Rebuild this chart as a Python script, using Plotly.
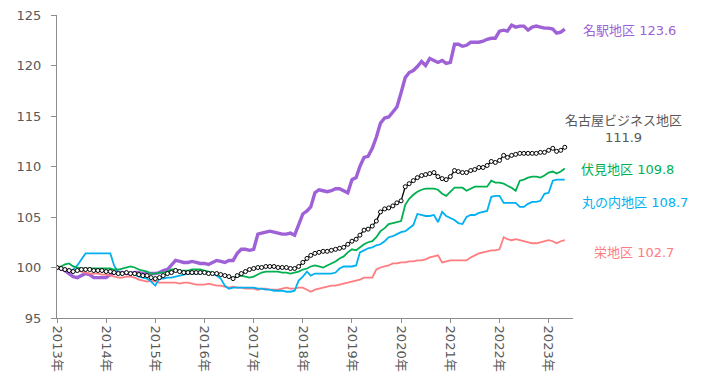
import pandas as pd
import plotly.graph_objects as go

# 月次指数（2013年1月 = 100）、2013年1月〜2023年5月
months = pd.date_range("2013-01-01", periods=125, freq="MS")

meieki = [  # 名駅地区
    100.0, 99.9, 99.7, 99.4, 99.1, 99.0, 99.2, 99.4, 99.3, 99.0, 99.0, 99.0,
    99.0, 99.3, 99.5, 99.5, 99.5, 99.4, 99.4, 99.5, 99.5, 99.4, 99.4, 99.4,
    99.4, 99.5, 99.7, 99.8, 100.2, 100.7, 100.6, 100.5, 100.5, 100.6, 100.5, 100.4,
    100.4, 100.3, 100.5, 100.7, 100.6, 100.5, 100.7, 100.7, 101.4, 101.8, 101.8, 101.7,
    101.8, 103.3, 103.4, 103.5, 103.6, 103.5, 103.4, 103.3, 103.3, 103.4, 103.2, 104.3,
    105.3, 105.6, 106.0, 107.4, 107.7, 107.6, 107.5, 107.6, 107.8, 107.8, 107.6, 107.4,
    108.7, 108.9, 110.0, 110.9, 111.0, 111.8, 112.9, 114.3, 114.8, 114.9, 115.4, 115.9,
    117.3, 118.8, 119.3, 119.5, 119.9, 120.4, 120.0, 120.7, 120.5, 120.3, 120.5, 120.2,
    120.3, 122.1, 122.1, 121.9, 122.0, 122.3, 122.3, 122.3, 122.4, 122.6, 122.7, 122.7,
    123.4, 123.5, 123.4, 124.0, 123.8, 123.9, 123.9, 123.5, 123.8, 123.9, 123.8, 123.7,
    123.7, 123.6, 123.2, 123.3, 123.6,
]

nagoya = [  # 名古屋ビジネス地区
    100.0, 99.9, 99.8, 99.7, 99.6, 99.7, 99.8, 99.8, 99.8, 99.7, 99.7, 99.7,
    99.6, 99.6, 99.5, 99.4, 99.4, 99.5, 99.4, 99.4, 99.3, 99.2, 99.2, 99.0,
    98.9, 99.0, 99.2, 99.4, 99.5, 99.7, 99.6, 99.5, 99.5, 99.5, 99.5, 99.5,
    99.5, 99.4, 99.4, 99.4, 99.3, 99.2, 99.1, 98.9, 99.2, 99.4, 99.6, 99.8,
    99.9, 100.0, 100.0, 100.1, 100.1, 100.1, 100.0, 100.0, 100.0, 99.9, 99.9, 100.1,
    100.5, 100.9, 101.2, 101.4, 101.5, 101.6, 101.6, 101.7, 101.8, 101.9, 102.0, 102.3,
    102.6, 102.8, 103.2, 103.7, 103.8, 104.1, 104.6, 105.5, 105.8, 105.9, 106.1, 106.4,
    106.6, 108.0, 108.3, 108.6, 108.9, 109.1, 109.2, 109.3, 109.4, 109.0, 108.8, 108.7,
    109.0, 109.6, 109.5, 109.4, 109.4, 109.6, 109.7, 109.9, 109.9, 110.1, 110.5, 110.4,
    110.6, 111.1, 110.9, 111.1, 111.2, 111.3, 111.3, 111.3, 111.3, 111.3, 111.4, 111.4,
    111.6, 111.8, 111.5, 111.6, 111.9,
]

fushimi = [  # 伏見地区
    100.0, 100.1, 100.3, 100.4, 100.1, 100.0, 99.9, 99.9, 99.9, 99.9, 99.9, 99.9,
    99.9, 99.9, 99.8, 99.8, 99.9, 100.0, 100.1, 100.0, 99.8, 99.7, 99.6, 99.4,
    99.4, 99.5, 99.5, 99.6, 99.8, 99.8, 99.7, 99.7, 99.7, 99.8, 99.8, 99.8,
    99.7, 99.6, 99.5, 99.4, 99.3, 99.2, 99.1, 99.0, 99.1, 99.2, 99.1, 99.0,
    99.1, 99.3, 99.5, 99.6, 99.6, 99.6, 99.6, 99.5, 99.5, 99.4, 99.5, 99.6,
    99.8, 99.9, 100.1, 100.2, 100.1, 100.0, 100.2, 100.4, 100.6, 100.9, 101.1, 101.5,
    101.8, 101.7, 102.0, 102.3, 102.5, 102.6, 103.0, 103.6, 103.9, 104.3, 104.4, 104.5,
    104.6, 106.2, 106.8, 107.2, 107.5, 107.7, 107.8, 107.8, 107.8, 107.7, 107.3, 107.1,
    107.5, 107.9, 107.9, 107.9, 107.6, 107.8, 108.0, 108.0, 108.0, 108.0, 108.6, 108.4,
    108.4, 108.3, 108.1, 107.9, 107.6, 108.6, 108.7, 108.9, 109.0, 109.0, 108.9, 109.1,
    109.4, 109.5, 109.3, 109.5, 109.8,
]

marunouchi = [  # 丸の内地区
    100.0, 99.9, 99.8, 99.7, 99.8, 100.2, 100.8, 101.4, 101.4, 101.4, 101.4, 101.4,
    101.4, 101.4, 100.2, 99.5, 99.5, 99.5, 99.4, 99.3, 99.1, 99.0, 98.9, 98.6,
    98.2, 98.9, 98.9, 99.0, 99.0, 99.1, 99.2, 99.3, 99.4, 99.4, 99.4, 99.4,
    99.5, 99.5, 99.4, 99.2, 98.9, 98.2, 97.9, 98.0, 98.0, 98.0, 98.0, 98.0,
    98.0, 97.9, 97.9, 97.8, 97.8, 97.7, 97.7, 97.7, 97.6, 97.6, 97.7, 98.7,
    99.1, 99.6, 99.2, 99.4, 99.4, 99.4, 99.4, 99.4, 99.5, 99.9, 100.1, 100.1,
    100.1, 100.2, 101.5, 101.7, 101.9, 102.0, 102.2, 102.3, 102.6, 103.0, 103.1, 103.3,
    103.5, 103.6, 103.9, 104.2, 105.3, 105.2, 105.1, 105.1, 105.2, 104.5, 105.5, 105.1,
    104.9, 104.7, 104.4, 104.3, 105.0, 105.2, 105.2, 105.4, 105.5, 105.6, 107.0, 107.1,
    107.1, 106.4, 106.4, 106.4, 106.4, 106.0, 106.0, 106.3, 106.5, 106.5, 106.6, 107.3,
    107.4, 108.6, 108.7, 108.7, 108.7,
]

sakae = [  # 栄地区
    100.0, 99.9, 99.8, 99.8, 99.7, 99.7, 99.6, 99.5, 99.4, 99.4, 99.4, 99.3,
    99.3, 99.2, 99.1, 99.0, 99.0, 99.1, 99.1, 99.0, 98.8, 98.7, 98.6, 98.7,
    98.6, 98.5, 98.5, 98.5, 98.5, 98.5, 98.4, 98.5, 98.5, 98.4, 98.3, 98.3,
    98.3, 98.4, 98.3, 98.2, 98.2, 98.1, 98.0, 98.1, 98.0, 98.0, 97.9, 97.9,
    97.9, 97.8, 97.9, 97.9, 97.8, 97.8, 97.8, 97.9, 98.0, 97.9, 97.9, 98.0,
    98.0, 97.8, 97.6, 97.8, 97.9, 98.0, 98.1, 98.2, 98.2, 98.3, 98.4, 98.5,
    98.6, 98.7, 98.8, 99.0, 99.0, 99.0, 99.8, 100.0, 100.1, 100.2, 100.4, 100.4,
    100.5, 100.5, 100.6, 100.6, 100.7, 100.7, 100.8, 101.0, 101.1, 101.2, 100.5, 100.6,
    100.7, 100.7, 100.7, 100.7, 100.7, 101.0, 101.2, 101.4, 101.5, 101.6, 101.7, 101.7,
    101.8, 103.0, 102.8, 102.7, 102.8, 102.7, 102.6, 102.5, 102.4, 102.4, 102.5, 102.6,
    102.7, 102.6, 102.4, 102.6, 102.7,
]

series_names = ["名駅地区", "名古屋ビジネス地区", "伏見地区", "丸の内地区", "栄地区"]
y_ticks = [95, 100, 105, 110, 115, 120, 125]

PURPLE = "#9E61D6"
BLACK = "#000000"
GREEN = "#00B050"
BLUE = "#00B0F0"
SALMON = "#FF7C80"
GRAY_TEXT = "#595959"
AXIS_GRAY = "#8C8C8C"
FONT = "DejaVu Sans, Noto Sans CJK JP, sans-serif"

fig = go.Figure()

fig.add_trace(go.Scatter(x=months, y=meieki, name=series_names[0], mode="lines",
                         line=dict(color=PURPLE, width=3.4)))
fig.add_trace(go.Scatter(x=months, y=sakae, name=series_names[4], mode="lines",
                         line=dict(color=SALMON, width=1.8)))
fig.add_trace(go.Scatter(x=months, y=marunouchi, name=series_names[3], mode="lines",
                         line=dict(color=BLUE, width=1.8)))
fig.add_trace(go.Scatter(x=months, y=fushimi, name=series_names[2], mode="lines",
                         line=dict(color=GREEN, width=1.8)))
fig.add_trace(go.Scatter(x=months, y=nagoya, name=series_names[1], mode="lines+markers",
                         line=dict(color=BLACK, width=1.3),
                         marker=dict(symbol="circle", size=4, color="white",
                                     line=dict(color=BLACK, width=1))))

# 右側の系列ラベル（最新値つき）
labels = [
    (f"{series_names[0]} {meieki[-1]:.1f}", PURPLE, 629, 31),
    (f"{series_names[1]}<br>{nagoya[-1]:.1f}", GRAY_TEXT, 623, 129),
    (f"{series_names[2]} {fushimi[-1]:.1f}", GREEN, 627, 169),
    (f"{series_names[3]} {marunouchi[-1]:.1f}", BLUE, 635, 202),
    (f"{series_names[4]} {sakae[-1]:.1f}", SALMON, 634, 252),
]
W, H = 708, 376
L, R, T, B = 57, 135, 15, 58
for text, color, px, py in labels:
    fig.add_annotation(
        text=text, showarrow=False,
        xref="paper", yref="paper",
        x=(px - L) / (W - L - R), y=1 - (py - T) / (H - T - B),
        xanchor="center", yanchor="middle", align="center",
        font=dict(family=FONT, size=13, color=color),
    )

fig.update_layout(
    width=W, height=H,
    margin=dict(l=L, r=R, t=T, b=B, autoexpand=False),
    paper_bgcolor="white", plot_bgcolor="white",
    showlegend=False,
    font=dict(family=FONT, size=13, color=GRAY_TEXT),
)
fig.update_xaxes(
    range=["2013-01-01", "2023-07-01"],
    tick0="2013-01-01", dtick="M12", tickformat="%Y年",
    tickangle=90, automargin=False,
    showgrid=False, zeroline=False,
    showline=True, linecolor=AXIS_GRAY, linewidth=1,
    ticks="outside", ticklen=4, tickcolor=AXIS_GRAY,
    tickfont=dict(family=FONT, size=13, color=GRAY_TEXT),
)
fig.update_yaxes(
    range=[95, 125], tickvals=y_ticks, automargin=False,
    showgrid=False, zeroline=False,
    showline=True, linecolor=AXIS_GRAY, linewidth=1,
    ticks="outside", ticklen=5, tickcolor=AXIS_GRAY, ticklabelstandoff=7,
    tickfont=dict(family=FONT, size=13, color=GRAY_TEXT),
)

fig.write_html("out.html")
